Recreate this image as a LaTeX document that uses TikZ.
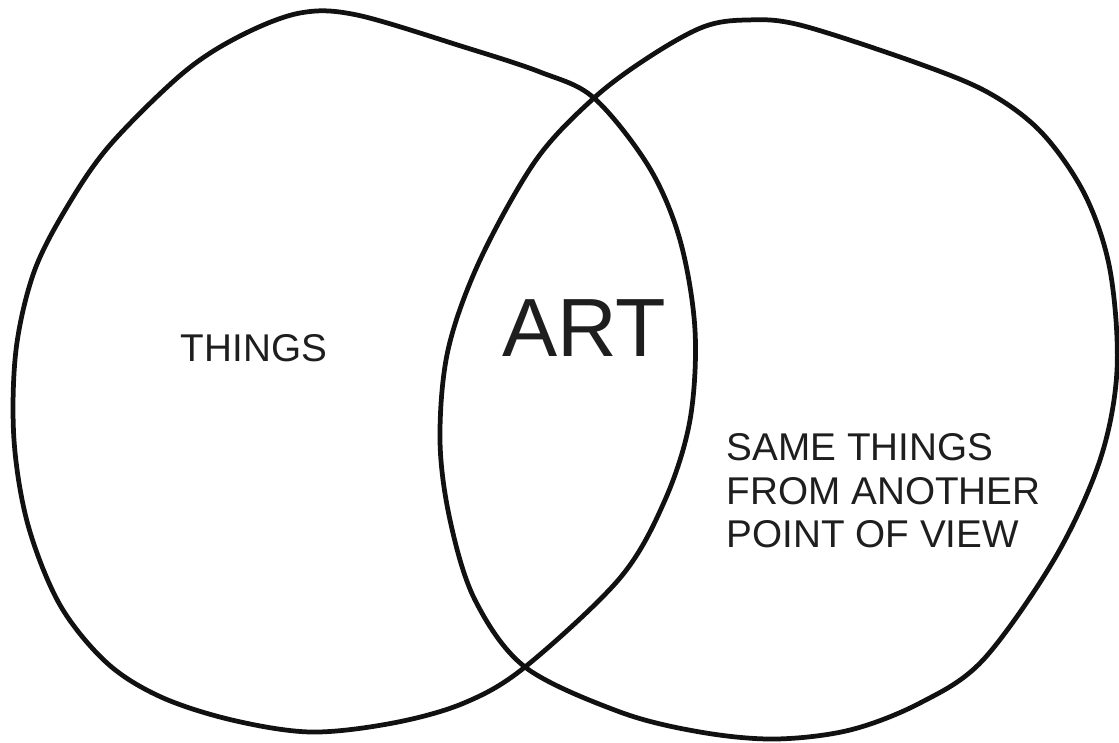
\documentclass[tikz,border=0pt]{standalone}
\usepackage{fontspec}
\setmainfont{Liberation Sans}
\usepackage{xcolor}
\definecolor{Ink}{HTML}{111111}
\definecolor{Type}{HTML}{1E1E1E}
\tikzset{
  blob/.style={draw=Ink,line width=1.35pt,line join=round},
  caption/.style={text=Type,inner sep=0pt,font=\fontsize{11}{12.4}\selectfont}
}

\begin{document}
\begin{tikzpicture}[x=0.01cm,y=-0.01cm]
\useasboundingbox (0,0) rectangle (1119,742);
% left set
\draw[blob] plot[smooth cycle,tension=0.55] coordinates {
  (300,13) (357,15) (464,47) (540,72) (594,98) (649,167)
  (680,240) (695,330) (690,420) (665,500) (620,578) (525,667)
  (464,703) (393,723) (311,732) (232,720) (161,697) (107,663)
  (60,605) (28,525) (14,440) (16,350) (34,272) (67,207)
  (110,145) (183,73) (240,36)};
% right set
\draw[blob] plot[smooth cycle,tension=0.55] coordinates {
  (746,20) (800,25) (917,63) (989,93) (1042,133) (1085,195)
  (1110,270) (1117,370) (1100,460) (1055,558) (983,660)
  (920,703) (850,730) (775,739) (700,732) (620,712)
  (525,667) (475,600) (450,520) (440,440) (448,350) (480,260)
  (536,160) (594,98) (649,57) (703,27)};
% labels
\node[caption] (things) at (254,348) {THINGS};
\node[caption,font=\fontsize{23.5}{26}\selectfont] (art) at (584,328) {ART};
\node[caption,anchor=north west,align=left] (view) at (726,433)
  {SAME THINGS\\FROM ANOTHER\\POINT OF VIEW};
\end{tikzpicture}
\end{document}
